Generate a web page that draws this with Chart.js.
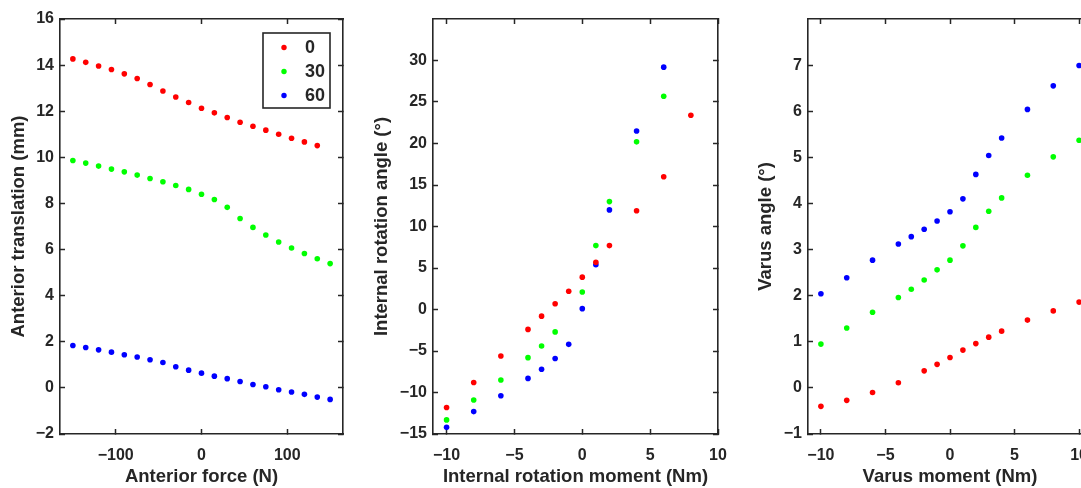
<!DOCTYPE html>
<html lang="en">
<head>
  <meta charset="UTF-8" />
  <title>Knee laxity</title>
  <script src="https://cdn.jsdelivr.net/npm/chart.js"></script>
  <style>
    body { margin: 0; background: #fff; overflow: hidden; width: 1081px; height: 488px; position: relative; }
    canvas { position: absolute; top: 0; }
  </style>
</head>
<body>
  <canvas id="chartAP" width="365" height="488" style="left:0"></canvas>
  <canvas id="chartIR" width="365" height="488" style="left:365px"></canvas>
  <canvas id="chartVarus" width="365" height="488" style="left:730px"></canvas>

  <script>
    // flexion angles (legend)
    const flexion = ["0", "30", "60"];
    const colors = ["#ff0000", "#00ff00", "#0000ff"];

    // panel 1: anterior force (N) vs anterior translation (mm)
    const force = [-150, -135, -120, -105, -90, -75, -60, -45, -30, -15, 0, 15, 30, 45, 60, 75, 90, 105, 120, 135, 150];
    const trans0 = [14.27, 14.12, 13.96, 13.81, 13.62, 13.42, 13.16, 12.88, 12.62, 12.38, 12.13, 11.93, 11.73, 11.52, 11.35, 11.18, 11.00, 10.83, 10.67, 10.51];
    const trans30 = [9.86, 9.75, 9.62, 9.49, 9.37, 9.23, 9.08, 8.94, 8.78, 8.61, 8.40, 8.17, 7.83, 7.35, 6.96, 6.63, 6.33, 6.07, 5.83, 5.60, 5.39];
    const trans60 = [1.84, 1.75, 1.65, 1.55, 1.44, 1.34, 1.22, 1.10, 0.92, 0.77, 0.64, 0.51, 0.40, 0.28, 0.15, 0.05, -0.08, -0.18, -0.28, -0.40, -0.50];

    // panel 2: internal rotation moment (Nm) vs angle (deg)
    const irMoment0 = [-10, -8, -6, -4, -3, -2, -1, 0, 1, 2, 4, 6, 8];
    const irAngle0 = [-11.8, -8.8, -5.6, -2.4, -0.8, 0.7, 2.2, 3.9, 5.7, 7.7, 11.9, 16.0, 23.4];
    const irMoment30 = [-10, -8, -6, -4, -3, -2, 0, 1, 2, 4, 6];
    const irAngle30 = [-13.3, -10.9, -8.5, -5.8, -4.4, -2.7, 2.1, 7.7, 13.0, 20.2, 25.7];
    const irMoment60 = [-10, -8, -6, -4, -3, -2, -1, 0, 1, 2, 4, 6];
    const irAngle60 = [-14.2, -12.3, -10.4, -8.3, -7.2, -5.9, -4.2, 0.1, 5.4, 12.0, 21.5, 29.2];

    // panel 3: varus moment (Nm) vs varus angle (deg)
    const varusMoment0 = [-10, -8, -6, -4, -2, -1, 0, 1, 2, 3, 4, 6, 8, 10];
    const varus0 = [-0.40, -0.27, -0.10, 0.11, 0.37, 0.51, 0.66, 0.82, 0.96, 1.10, 1.23, 1.47, 1.67, 1.86];
    const varusMoment = [-10, -8, -6, -4, -3, -2, -1, 0, 1, 2, 3, 4, 6, 8, 10];
    const varus30 = [0.95, 1.30, 1.64, 1.96, 2.14, 2.34, 2.56, 2.77, 3.08, 3.48, 3.83, 4.12, 4.61, 5.01, 5.37];
    const varus60 = [2.04, 2.39, 2.77, 3.12, 3.28, 3.44, 3.62, 3.82, 4.10, 4.63, 5.04, 5.42, 6.04, 6.55, 6.99];

    // tick values
    const forceTicks = [-100, 0, 100];
    const transTicks = [-2, 0, 2, 4, 6, 8, 10, 12, 14, 16];
    const momentTicks = [-10, -5, 0, 5, 10];
    const irTicks = [-15, -10, -5, 0, 5, 10, 15, 20, 25, 30];
    const varusTicks = [-1, 0, 1, 2, 3, 4, 5, 6, 7];

    const ink = "#262626";
    const font = "'Liberation Sans', Arial, sans-serif";

    function pts(xs, ys) {
      return xs.map((x, i) => ({ x: x, y: ys[i] }));
    }

    function fmt(v) {
      return v < 0 ? "\u2212" + Math.abs(v) : String(v);
    }

    function axis(pos, min, max, ticks, title, size, titlePad) {
      const horiz = pos === "bottom" || pos === "top";
      const main = pos === "bottom" || pos === "left";
      return {
        type: "linear",
        position: pos,
        min: min,
        max: max,
        afterBuildTicks: s => { s.ticks = ticks.map(v => ({ value: v })); },
        afterFit: s => {
          if (horiz) s.height = main ? size : 0; else s.width = main ? size : 0;
          s.paddingLeft = 0; s.paddingRight = 0; s.paddingTop = 0; s.paddingBottom = 0;
        },
        grid: {
          drawOnChartArea: false,
          drawTicks: true,
          tickLength: -5,
          tickColor: ink,
          tickWidth: 1.5
        },
        border: { display: true, color: ink, width: 1.6 },
        ticks: {
          display: main,
          color: ink,
          padding: horiz ? 17 : 11,
          maxRotation: 0,
          autoSkip: false,
          font: { family: font, size: 16, weight: "bold" },
          callback: v => fmt(v)
        },
        title: {
          display: main,
          text: title,
          color: ink,
          padding: horiz ? { top: 0, bottom: 0 } : { top: titlePad, bottom: 0 },
          font: { family: font, size: 18.5, weight: "bold" }
        }
      };
    }

    const boxLegend = {
      id: "boxLegend",
      afterDraw(chart, args, opts) {
        if (!opts.show) return;
        const ctx = chart.ctx;
        const x = opts.x, y = opts.y, w = opts.w, h = opts.h;
        ctx.save();
        ctx.fillStyle = "#fff";
        ctx.fillRect(x, y, w, h);
        ctx.strokeStyle = ink;
        ctx.lineWidth = 1.6;
        ctx.strokeRect(x, y, w, h);
        ctx.font = "bold 18px " + font;
        ctx.textBaseline = "middle";
        chart.data.datasets.forEach((ds, i) => {
          const cy = y + 14.5 + i * 24;
          ctx.fillStyle = ds.backgroundColor;
          ctx.beginPath();
          ctx.arc(x + 21, cy, 2.7, 0, Math.PI * 2);
          ctx.fill();
          ctx.fillStyle = ink;
          ctx.fillText(ds.label, x + 42, cy + 1);
        });
        ctx.restore();
      }
    };

    function makeChart(id, sets, xs, ys, pad, legend) {
      return new Chart(document.getElementById(id), {
        type: "scatter",
        data: {
          datasets: sets.map((d, i) => ({
            label: flexion[i],
            data: d,
            backgroundColor: colors[i],
            borderColor: colors[i],
            pointRadius: 2.8,
            pointBorderWidth: 0,
            pointHoverRadius: 2.8
          }))
        },
        options: {
          responsive: false,
          animation: false,
          events: [],
          layout: { padding: pad },
          scales: { x: xs, y: ys, x2: xs2(xs), y2: ys2(ys) },
          plugins: {
            legend: { display: false },
            tooltip: { enabled: false },
            boxLegend: legend || { show: false }
          }
        },
        plugins: [boxLegend]
      });
    }

    // mirrored axes on top and right (box with inward ticks, no labels)
    function xs2(a) {
      const t = a.afterBuildTicks;
      return Object.assign({}, axis("top", a.min, a.max, []), { afterBuildTicks: t });
    }
    function ys2(a) {
      const t = a.afterBuildTicks;
      return Object.assign({}, axis("right", a.min, a.max, []), { afterBuildTicks: t });
    }

    makeChart("chartAP",
      [pts(force.slice(0, trans0.length), trans0), pts(force, trans30), pts(force, trans60)],
      axis("bottom", -165, 165, forceTicks, "Anterior force (N)", 54),
      axis("left", -2, 16, transTicks, "Anterior translation (mm)", 60, 8),
      { top: 19, right: 22, bottom: 0, left: 0 },
      { show: true, x: 263, y: 33, w: 67, h: 75 });

    makeChart("chartIR",
      [pts(irMoment0, irAngle0), pts(irMoment30, irAngle30), pts(irMoment60, irAngle60)],
      axis("bottom", -11, 10, momentTicks, "Internal rotation moment (Nm)", 54),
      axis("left", -15, 35, irTicks, "Internal rotation angle (\u00b0)", 68, 6),
      { top: 19, right: 12, bottom: 0, left: 0 });

    makeChart("chartVarus",
      [pts(varusMoment0, varus0), pts(varusMoment, varus30), pts(varusMoment, varus60)],
      axis("bottom", -11, 11, momentTicks, "Varus moment (Nm)", 54),
      axis("left", -1, 8, varusTicks, "Varus angle (\u00b0)", 78, 25),
      { top: 19, right: 3, bottom: 0, left: 0 });
  </script>
</body>
</html>
